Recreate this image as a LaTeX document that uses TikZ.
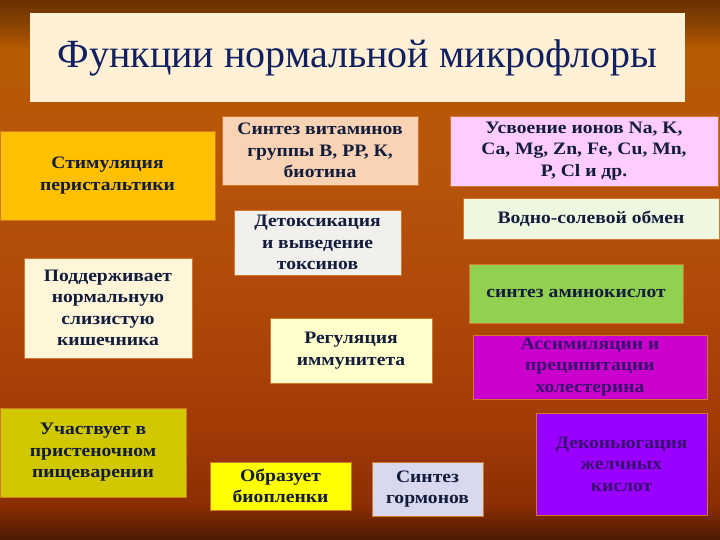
\documentclass[tikz,border=0pt]{standalone}
\usepackage{fontspec}
\setmainfont{Liberation Serif}
\newfontfamily\boxfont[FakeStretch=1.12]{Liberation Serif}
\usepackage{tikz}

\definecolor{bgA}{HTML}{4A1A02}
\definecolor{bgB}{HTML}{8A2E02}
\definecolor{bgC}{HTML}{A33A06}
\definecolor{bgD}{HTML}{B0480A}
\definecolor{bgE}{HTML}{B8560A}
\definecolor{bgF}{HTML}{B85A02}
\definecolor{bgG}{HTML}{8A4400}
\definecolor{bgH}{HTML}{6A3000}
\definecolor{txtnavy}{HTML}{121C3C}
\definecolor{txtpurple}{HTML}{3A1070}
\definecolor{titletxt}{HTML}{102060}
\definecolor{titlecol}{HTML}{FFF0D6}
\definecolor{stimcol}{HTML}{FFC000}
\definecolor{vitcol}{HTML}{FAD2B4}
\definecolor{ioncol}{HTML}{FFCCFF}
\definecolor{detoxcol}{HTML}{F2F0EC}
\definecolor{watercol}{HTML}{EEF8E0}
\definecolor{poddcol}{HTML}{FFF6DA}
\definecolor{aminocol}{HTML}{92D050}
\definecolor{immuncol}{HTML}{FFFFCC}
\definecolor{assimcol}{HTML}{CC00CC}
\definecolor{uchcol}{HTML}{D2C800}
\definecolor{dekoncol}{HTML}{9900FF}
\definecolor{filmcol}{HTML}{FFFF00}
\definecolor{hormcol}{HTML}{D8D8EE}
\definecolor{edgecol}{HTML}{D2782A}

\pgfdeclareverticalshading{slidebg}{100bp}{color(0bp)=(bgA); color(25bp)=(bgA);
  color(28.2bp)=(bgB); color(35.2bp)=(bgC); color(47.2bp)=(bgD); color(61.1bp)=(bgE);
  color(70.4bp)=(bgF); color(72.7bp)=(bgG); color(75bp)=(bgH); color(100bp)=(bgH)}

\tikzset{
  fnbox/.style={draw=edgecol, line width=0.8pt, inner sep=0pt, align=center,
    text=txtnavy, font=\boxfont\bfseries\fontsize{17.5}{21.5}\selectfont},
}

\begin{document}
\begin{tikzpicture}[x=1pt, y=-1pt]
% background
\shade [shading=slidebg] (0,0) rectangle (720,540);
\useasboundingbox (0,0) rectangle (720,540);

% title
\node (title) [fill=titlecol, minimum width=655pt, minimum height=89pt, inner sep=0pt,
  text=titletxt, font=\fontsize{40}{44}\selectfont] at (357.5,57.5)
  {Функции нормальной микрофлоры};

% left column
\node (stim) [fnbox, fill=stimcol, minimum width=215pt, minimum height=89pt] at (107.5,175.5)
  {Стимуляция\\перистальтики};
\node (podd) [fnbox, fill=poddcol, minimum width=168pt, minimum height=100pt] at (108,308)
  {Поддерживает\\нормальную\\слизистую\\кишечника};
\node (uch) [fnbox, fill=uchcol, minimum width=186pt, minimum height=89pt] at (93,452.5)
  {Участвует в\\пристеночном\\пищеварении};

% middle column
\node (vit) [fnbox, fill=vitcol, minimum width=196pt, minimum height=69pt] at (320,150.5)
  {Синтез витаминов\\группы В, РР, К,\\биотина};
\node (detox) [fnbox, fill=detoxcol, minimum width=167pt, minimum height=65pt] at (317.5,242.5)
  {Детоксикация\\и выведение\\токсинов};
\node (immun) [fnbox, fill=immuncol, minimum width=162pt, minimum height=65pt] at (351,350.5)
  {Регуляция\\иммунитета};
\node (film) [fnbox, fill=filmcol, minimum width=141pt, minimum height=48pt] at (280.5,486)
  {Образует\\биопленки};
\node (horm) [fnbox, fill=hormcol, minimum width=111pt, minimum height=54pt] at (427.5,489)
  {Синтез\\гормонов};

% right column
\node (ions) [fnbox, fill=ioncol, minimum width=268pt, minimum height=70pt] at (584,151)
  {Усвоение ионов Na, K,\\Ca, Mg, Zn, Fe, Cu, Mn,\\P, Cl и др.};
\node (water) [fnbox, fill=watercol, minimum width=256pt, minimum height=41pt] at (591,218.5)
  {Водно-солевой обмен};
\node (amino) [fnbox, fill=aminocol, minimum width=214pt, minimum height=59pt] at (576,293.5)
  {синтез аминокислот};
\node (assim) [fnbox, fill=assimcol, text=txtpurple, minimum width=234pt, minimum height=64pt] at (590,367)
  {Ассимиляции и\\преципитации\\холестерина};
\node (dekon) [fnbox, fill=dekoncol, text=txtpurple, minimum width=171pt, minimum height=102pt] at (621.5,464)
  {Деконьюгация\\желчных\\кислот};
\end{tikzpicture}
\end{document}
